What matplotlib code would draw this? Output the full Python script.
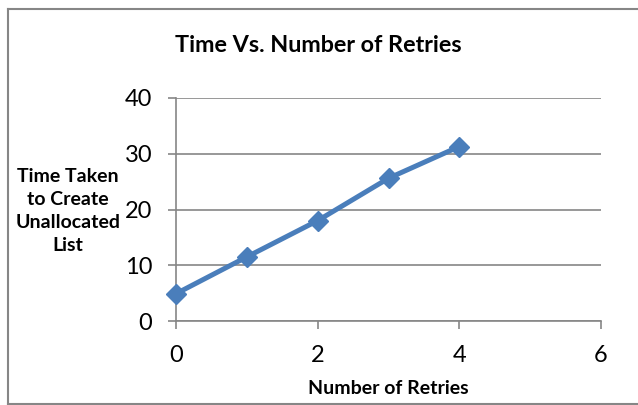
import matplotlib
matplotlib.use("Agg")
import matplotlib.pyplot as plt
from matplotlib.lines import Line2D

retries = [0, 1, 2, 3, 4]
time_taken = [4.9, 11.5, 18.0, 25.6, 31.3]
x_ticks = [0, 2, 4, 6]
y_ticks = [0, 10, 20, 30, 40]

plt.rcParams['font.family'] = ['Lato', 'DejaVu Sans']

grey = "#868686"
blue = "#4A7EBB"

fig = plt.figure(figsize=(6.38, 4.05), dpi=100)
ax = fig.add_axes([176 / 638, 1 - 321 / 405, (601 - 176) / 638, (321 - 98) / 405])

ax.plot(retries, time_taken, color=blue, linewidth=3.6, marker="D",
        markersize=10, solid_capstyle="round", zorder=3, clip_on=False)

ax.set_xlim(0, 6)
ax.set_ylim(0, 40)
ax.set_xticks(x_ticks)
ax.set_yticks(y_ticks)
ax.tick_params(axis="both", colors=grey, labelcolor="black", labelsize=17,
               length=6, width=1.2, direction="out")
ax.tick_params(axis="x", pad=11)
ax.tick_params(axis="y", pad=11)
ax.grid(axis="y", color=grey, linewidth=1.2)
ax.set_axisbelow(True)
for side in ["top", "right"]:
    ax.spines[side].set_visible(False)
for side in ["left", "bottom"]:
    ax.spines[side].set_color(grey)
    ax.spines[side].set_linewidth(1.2)

fig.text(318 / 638, 1 - 46 / 405, "Time Vs. Number of Retries", ha="center",
         va="center", fontsize=16.8, fontweight="bold")
fig.text(388 / 638, 1 - 388 / 405, "Number of Retries", ha="center",
         va="center", fontsize=14, fontweight="bold")
fig.text(68 / 638, 1 - 211 / 405, "Time Taken\nto Create\nUnallocated\nList",
         ha="center", va="center", fontsize=14, fontweight="bold",
         linespacing=1.42)

# chart border: left, top, bottom only (right edge is cut off)
left, top, bottom = 7.5 / 638, 1 - 9 / 405, 1 - 404 / 405
for xs, ys in [([left, left], [bottom, top]),
               ([left, 1.0], [top, top]),
               ([left, 1.0], [bottom, bottom])]:
    fig.add_artist(Line2D(xs, ys, transform=fig.transFigure, color=grey,
                          linewidth=1.5))

fig.savefig("out.png", dpi=100)
